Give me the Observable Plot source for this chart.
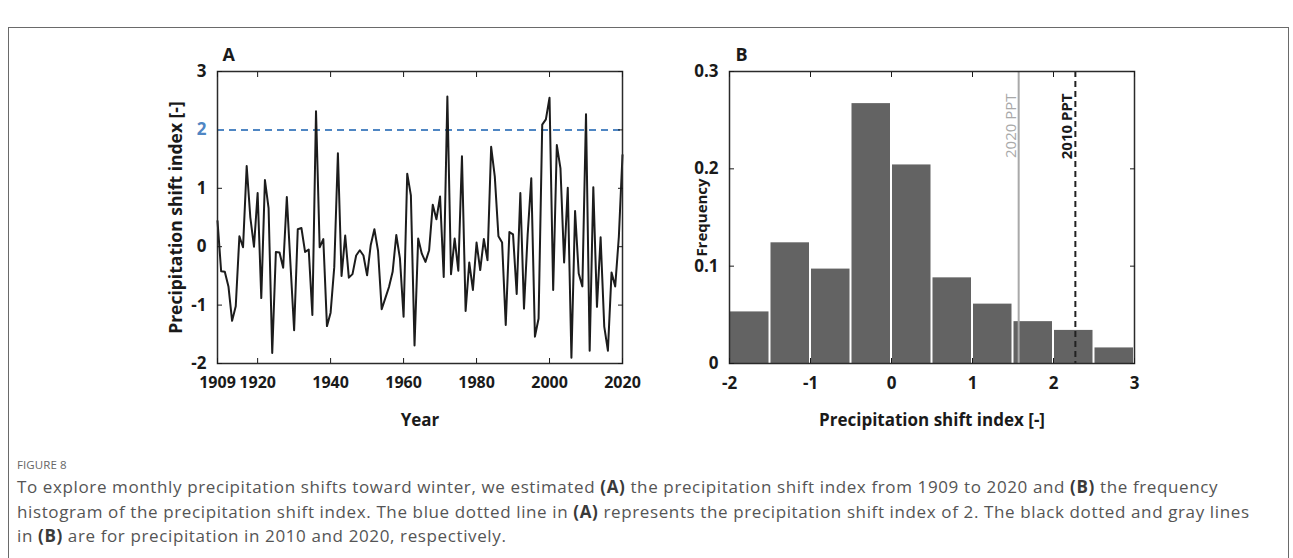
<!DOCTYPE html>
<html>
<head>
<meta charset="utf-8">
<script src="https://cdn.jsdelivr.net/npm/d3@7"></script>
<script src="https://cdn.jsdelivr.net/npm/@observablehq/plot@0.6"></script>
<style>
  html, body { margin: 0; padding: 0; background: #fff; }
  body { width: 1293px; height: 558px; overflow: hidden; position: relative; font-family: "Open Sans", sans-serif; }
  #border { position: absolute; left: 8px; top: 27px; width: 1281px; height: 700px; border: 1px solid #6a6a6a; box-sizing: border-box; }
  #panelA { position: absolute; left: 100px; top: 20px; }
  #panelB { position: absolute; left: 650px; top: 20px; }
  #figlabel { position: absolute; left: 17px; top: 457px; font-size: 11.5px; color: #666; letter-spacing: 0.1px; }
  #caption { position: absolute; left: 17px; top: 475px; font-size: 17px; letter-spacing: 0.62px; line-height: 24.5px; color: #555; white-space: nowrap; }
  #caption b { color: #3a3a3a; }
</style>
</head>
<body>
<div id="border"></div>
<div id="panelA"></div>
<div id="panelB"></div>
<div id="figlabel">FIGURE 8</div>
<div id="caption">To explore monthly precipitation shifts toward winter, we estimated <b>(A)</b> the precipitation shift index from 1909 to 2020 and <b>(B)</b> the frequency<br>histogram of the precipitation shift index. The blue dotted line in <b>(A)</b> represents the precipitation shift index of 2. The black dotted and gray lines<br>in <b>(B)</b> are for precipitation in 2010 and 2020, respectively.</div>
<script>
// ---- Panel A data: precipitation shift index, 1909..2020 ----
const startYear = 1909;
const shiftIndex = [
  0.44,-0.42,-0.43,-0.68,-1.27,-1.02,0.18,-0.01,1.38,0.5,
  0.0,0.92,-0.88,1.14,0.66,-1.82,-0.09,-0.1,-0.36,0.85,
  -0.3,-1.43,0.3,0.32,-0.09,-0.05,-1.17,2.32,-0.01,0.13,
  -1.36,-1.13,-0.35,1.6,-0.5,0.19,-0.53,-0.47,-0.15,-0.06,
  -0.15,-0.49,0.03,0.3,-0.07,-1.07,-0.88,-0.69,-0.43,0.2,
  -0.2,-1.2,1.25,0.88,-1.69,0.14,-0.12,-0.26,-0.06,0.72,
  0.47,0.86,-0.52,2.57,-0.47,0.14,-0.41,1.55,-1.1,-0.27,
  -0.74,0.07,-0.4,0.13,-0.23,1.71,1.2,0.18,0.07,-1.34,
  0.25,0.21,-0.81,0.92,-1.06,0.2,1.17,-1.54,-1.23,2.09,
  2.18,2.55,-0.74,1.74,1.34,-0.27,1.01,-1.9,0.61,-0.46,
  -0.68,2.27,-1.78,1.02,-1.03,0.16,-1.37,-1.78,-0.44,-0.68,
  0.17,1.57
];
const thresholdA = [2];
const xTicksA = [1909, 1920, 1940, 1960, 1980, 2000, 2020];
const yTicksA = [-2, -1, 0, 1, 2, 3];

// ---- Panel B data: histogram of the index ----
const binEdges = [-2, -1.5, -1, -0.5, 0, 0.5, 1, 1.5, 2, 2.5, 3];
const binFreq = [0.053, 0.124, 0.097, 0.267, 0.204, 0.088, 0.061, 0.043, 0.034, 0.016];
const ppt2020 = 1.57;
const ppt2010 = 2.27;
const xTicksB = [-2, -1, 0, 1, 2, 3];
const yTicksB = [0, 0.1, 0.2, 0.3];

const series = shiftIndex.map((v, i) => ({year: startYear + i, value: v}));
const bins = binFreq.map((f, i) => ({x0: binEdges[i], x1: binEdges[i + 1], freq: f}));

const ink = "#1a1a1a";
const blue = "#4f86c3";
const fmt = d => String(d);
const blank = () => "";
const baseStyle = {fontFamily: "'Open Sans', sans-serif", fontSize: "17px", fontWeight: "bold", color: ink, background: "transparent", overflow: "visible"};

const plotA = Plot.plot({
  width: 545, height: 440,
  marginLeft: 117, marginRight: 23, marginTop: 51, marginBottom: 97,
  x: {domain: [1909, 2020]},
  y: {domain: [-2, 3]},
  style: baseStyle,
  marks: [
    Plot.ruleY(thresholdA, {stroke: blue, strokeWidth: 2, strokeDasharray: "7,5"}),
    Plot.line(series, {x: "year", y: "value", stroke: "#1c1c1c", strokeWidth: 2}),
    Plot.frame({stroke: "#2b2b2b", strokeWidth: 1.5}),
    Plot.axisX(xTicksA, {anchor: "bottom", tickSize: -5, tickPadding: 18, tickFormat: fmt, label: null, fill: ink, fontSize: 16}),
    Plot.axisX(xTicksA, {anchor: "top", tickSize: -5, tickFormat: blank, label: null}),
    Plot.axisY(yTicksA.filter(d => d !== 2), {anchor: "left", tickSize: -5, tickPadding: 16, tickFormat: fmt, label: null, fill: ink}),
    Plot.axisY(thresholdA, {anchor: "left", tickSize: 0, tickPadding: 11, tickFormat: fmt, label: null, fill: blue}),
    Plot.axisY(yTicksA, {anchor: "right", tickSize: -5, tickFormat: blank, label: null}),
    Plot.text(["Year"], {frameAnchor: "bottom", dy: 57, lineAnchor: "middle", textAnchor: "middle", fontSize: 17, fontWeight: "bold", fill: ink}),
    Plot.text(["Precipitation shift index [-]"], {frameAnchor: "left", dx: -41, rotate: -90, lineAnchor: "middle", textAnchor: "middle", fontSize: 17.5, fontWeight: "bold", fill: ink}),
    Plot.text(["A"], {frameAnchor: "top-left", dx: 5, dy: -16, lineAnchor: "middle", textAnchor: "start", fontSize: 18, fontWeight: "bold", fill: ink})
  ]
});
document.getElementById("panelA").append(plotA);

const plotB = Plot.plot({
  width: 514, height: 440,
  marginLeft: 79, marginRight: 30, marginTop: 51, marginBottom: 97,
  x: {domain: [-2, 3]},
  y: {domain: [0, 0.3]},
  style: baseStyle,
  marks: [
    Plot.rectY(bins, {x1: "x0", x2: "x1", y: "freq", fill: "#636363", insetLeft: 1, insetRight: 1}),
    Plot.ruleX([ppt2020], {stroke: "#a9a9a9", strokeWidth: 2}),
    Plot.ruleX([ppt2010], {stroke: "#222", strokeWidth: 2, strokeDasharray: "6,4"}),
    Plot.text(["2020 PPT"], {x: ppt2020, frameAnchor: "top", dy: 22, dx: -3, rotate: -90, textAnchor: "end", lineAnchor: "bottom", fontSize: 15, fontWeight: "normal", fill: "#a9a9a9"}),
    Plot.text(["2010 PPT"], {x: ppt2010, frameAnchor: "top", dy: 22, dx: -3, rotate: -90, textAnchor: "end", lineAnchor: "bottom", fontSize: 15, fontWeight: "bold", fill: ink}),
    Plot.frame({stroke: "#2b2b2b", strokeWidth: 1.5}),
    Plot.axisX(xTicksB, {anchor: "bottom", tickSize: -5, tickPadding: 18, tickFormat: fmt, label: null, fill: ink}),
    Plot.axisX(xTicksB, {anchor: "top", tickSize: -5, tickFormat: blank, label: null}),
    Plot.axisY(yTicksB, {anchor: "left", tickSize: -5, tickPadding: 16, tickFormat: fmt, label: null, fill: ink}),
    Plot.axisY(yTicksB, {anchor: "right", tickSize: -5, tickFormat: blank, label: null}),
    Plot.text(["Precipitation shift index [-]"], {frameAnchor: "bottom", dy: 57, lineAnchor: "middle", textAnchor: "middle", fontSize: 17, fontWeight: "bold", fill: ink}),
    Plot.text(["Frequency"], {frameAnchor: "left", dx: -27, rotate: -90, lineAnchor: "middle", textAnchor: "middle", fontSize: 15, fontWeight: "bold", fill: ink}),
    Plot.text(["B"], {frameAnchor: "top-left", dx: 6, dy: -16, lineAnchor: "middle", textAnchor: "start", fontSize: 18, fontWeight: "bold", fill: ink})
  ]
});
document.getElementById("panelB").append(plotB);
</script>
</body>
</html>
